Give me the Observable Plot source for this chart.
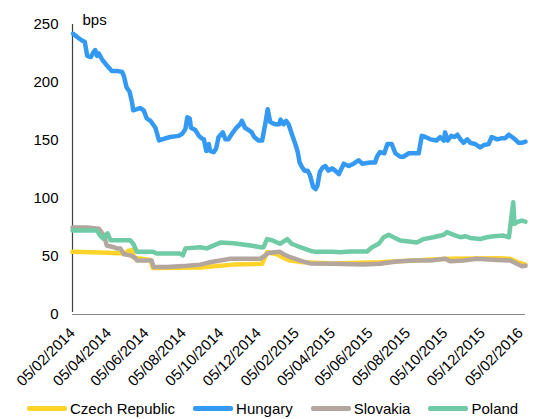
<!DOCTYPE html>
<html>
<head>
<meta charset="utf-8">
<script src="https://cdn.jsdelivr.net/npm/d3@7"></script>
<script src="https://cdn.jsdelivr.net/npm/@observablehq/plot@0.6"></script>
<style>
  html, body { margin: 0; padding: 0; background: #fff; }
  body { width: 534px; height: 419px; overflow: hidden; font-family: "Liberation Sans", Arial, sans-serif; }
  #legend { display: flex; align-items: center; height: 27px; padding-left: 27px; padding-top: 3px; font-size: 15px; color: #000; white-space: nowrap; }
  .item { display: flex; align-items: center; margin-right: 18px; flex-shrink: 0; }
  .sw { width: 40px; height: 5px; border-radius: 2px; margin-right: 3px; flex-shrink: 0; }
</style>
</head>
<body>
<div id="chart"></div>
<div id="legend"></div>
<script>
const seriesNames = ["Czech Republic", "Hungary", "Slovakia", "Poland"];
const seriesColors = ["#FFD327", "#3399F3", "#B3A69E", "#6FCAA6"];
const yTicks = [0, 50, 100, 150, 200, 250];
const xTickDates = ["2014-02-05","2014-04-05","2014-06-05","2014-08-05","2014-10-05","2014-12-05",
  "2015-02-05","2015-04-05","2015-06-05","2015-08-05","2015-10-05","2015-12-05","2016-02-05"];
const xDomain = ["2014-02-05", "2016-02-13"];

const czech = [
  ["2014-02-05",54],["2014-03-22",53.5],["2014-05-02",52.5],["2014-05-07",55],["2014-05-13",55.5],
  ["2014-05-16",49],["2014-06-12",47],["2014-06-16",40],["2014-09-01",40.5],["2014-10-25",43],
  ["2014-12-11",43.7],["2014-12-19",53.7],["2015-01-04",52],["2015-01-18",48],["2015-01-26",46.5],
  ["2015-02-16",45],["2015-04-06",44],["2015-06-21",45],["2015-10-08",48],["2015-12-29",48.5],
  ["2016-01-19",48],["2016-02-01",45],["2016-02-13",43]
];

const hungary = [
  ["2014-02-06",242],["2014-02-13",239],["2014-02-21",236],["2014-02-25",235],["2014-03-01",223],
  ["2014-03-07",222],["2014-03-11",226],["2014-03-14",228],["2014-03-17",223],["2014-03-20",225],
  ["2014-03-25",220],["2014-03-31",216],["2014-04-05",213],["2014-04-10",210],["2014-04-18",210],
  ["2014-04-27",209],["2014-04-30",205],["2014-05-04",196],["2014-05-09",192],["2014-05-13",183],
  ["2014-05-15",176],["2014-05-21",177],["2014-05-26",178],["2014-06-01",176],["2014-06-06",169],
  ["2014-06-12",167],["2014-06-20",161],["2014-06-26",150],["2014-07-01",151],["2014-07-14",153],
  ["2014-07-28",154],["2014-08-03",156],["2014-08-08",160],["2014-08-11",170],["2014-08-15",169],
  ["2014-08-17",161],["2014-08-24",159],["2014-08-30",154],["2014-09-03",152],["2014-09-07",151],
  ["2014-09-11",141],["2014-09-15",147],["2014-09-17",141],["2014-09-23",140],["2014-09-27",143],
  ["2014-10-01",153],["2014-10-08",157],["2014-10-12",151],["2014-10-17",151],["2014-10-23",156],
  ["2014-10-30",161],["2014-11-05",164],["2014-11-08",167],["2014-11-13",161],["2014-11-19",159],
  ["2014-11-24",157],["2014-11-28",153],["2014-12-05",150],["2014-12-11",150],["2014-12-16",164],
  ["2014-12-20",177],["2014-12-24",166],["2015-01-01",164],["2015-01-08",164],["2015-01-10",168],
  ["2015-01-15",164],["2015-01-19",167],["2015-01-23",164],["2015-01-28",156],["2015-02-03",147],
  ["2015-02-07",140],["2015-02-10",131],["2015-02-14",127],["2015-02-18",124],["2015-02-23",124],
  ["2015-02-27",120],["2015-03-04",110],["2015-03-08",108],["2015-03-11",111],["2015-03-15",123],
  ["2015-03-20",127],["2015-03-24",128],["2015-03-29",124],["2015-04-04",126],["2015-04-09",124],
  ["2015-04-15",121],["2015-04-23",130],["2015-05-01",128],["2015-05-09",130],["2015-05-17",133],
  ["2015-05-23",130],["2015-06-05",131],["2015-06-13",131],["2015-06-16",136],["2015-06-21",140],
  ["2015-06-28",139],["2015-07-03",147],["2015-07-10",147],["2015-07-16",139],["2015-07-24",136],
  ["2015-07-29",136],["2015-08-07",139],["2015-08-23",139],["2015-08-28",154],["2015-09-03",153],
  ["2015-09-11",151],["2015-09-21",150],["2015-09-27",153],["2015-10-03",150],["2015-10-05",157],
  ["2015-10-09",150],["2015-10-15",154],["2015-10-20",153],["2015-10-25",155],["2015-10-30",151],
  ["2015-11-04",148],["2015-11-10",151],["2015-11-15",148],["2015-11-23",147],["2015-12-01",144],
  ["2015-12-07",146],["2015-12-15",147],["2015-12-20",153],["2015-12-29",151],["2016-01-06",152],
  ["2016-01-11",152],["2016-01-17",155],["2016-01-22",153],["2016-01-27",151],["2016-02-02",148],
  ["2016-02-07",148],["2016-02-13",149]
];

const slovakia = [
  ["2014-02-05",75],["2014-03-01",75],["2014-03-20",74],["2014-03-28",68],["2014-04-02",59.5],
  ["2014-04-13",58],["2014-04-18",57],["2014-04-24",57],["2014-04-30",52],["2014-05-10",51],
  ["2014-05-18",49],["2014-05-21",46.5],["2014-06-14",46.5],["2014-06-17",41],["2014-07-09",41],
  ["2014-08-11",42],["2014-09-01",43],["2014-09-17",45],["2014-10-04",46.5],["2014-10-20",48],
  ["2014-12-08",48],["2014-12-16",51],["2014-12-21",53],["2015-01-09",54],["2015-01-15",52],
  ["2015-01-26",49.4],["2015-02-11",46.5],["2015-02-27",44],["2015-04-06",43.7],["2015-05-25",43],
  ["2015-06-21",43.7],["2015-07-18",45.7],["2015-08-14",46.5],["2015-09-11",46.5],["2015-10-05",48],
  ["2015-10-13",46],["2015-11-04",46.5],["2015-11-25",48],["2015-12-29",47],["2016-01-19",46.5],
  ["2016-01-30",43.7],["2016-02-07",41.6],["2016-02-13",42]
];

const poland = [
  ["2014-02-05",72.4],["2014-03-17",72.4],["2014-03-22",68],["2014-03-27",65.5],["2014-04-03",70],
  ["2014-04-08",64],["2014-05-10",64],["2014-05-15",61],["2014-05-21",54],["2014-06-16",54],
  ["2014-06-23",52.5],["2014-07-30",52.5],["2014-08-04",51],["2014-08-08",57],["2014-09-01",58],
  ["2014-09-12",57],["2014-10-04",62],["2014-10-25",61.5],["2014-11-22",59.5],["2014-12-08",58],
  ["2014-12-13",58],["2014-12-19",65],["2014-12-27",64],["2015-01-09",61],["2015-01-21",65],
  ["2015-01-28",61],["2015-02-11",58],["2015-02-27",55],["2015-03-08",54],["2015-04-06",54],
  ["2015-04-17",53.7],["2015-05-04",54.3],["2015-05-31",54.3],["2015-06-08",58],["2015-06-19",61],
  ["2015-06-27",66.6],["2015-07-05",68.7],["2015-07-13",66.6],["2015-07-24",63.8],["2015-08-07",63],
  ["2015-08-20",62],["2015-08-31",65],["2015-09-16",66.6],["2015-10-03",68.7],["2015-10-08",71],
  ["2015-10-19",68.7],["2015-10-30",66.6],["2015-11-07",67.5],["2015-11-15",66],["2015-12-01",65],
  ["2015-12-12",66.6],["2015-12-23",67.5],["2016-01-08",68],["2016-01-17",66.6],["2016-01-19",75],
  ["2016-01-24",96.8],["2016-01-26",78],["2016-01-30",79.6],["2016-02-07",81],["2016-02-13",80]
];

const parse = d3.utcParse("%Y-%m-%d");
const fmt = d3.utcFormat("%d/%m/%Y");
const allSeries = [czech, hungary, slovakia, poland];
const rows = allSeries.flatMap((s, i) => s.map(([d, v]) => ({date: parse(d), value: v, series: seriesNames[i]})));

const chart = Plot.plot({
  width: 534,
  height: 392,
  marginTop: 24,
  marginBottom: 78,
  marginLeft: 72,
  marginRight: 9,
  style: {fontFamily: "'Liberation Sans', Arial, sans-serif", fontSize: "15px", color: "#000", background: "#fff"},
  x: {type: "utc", domain: xDomain.map(parse)},
  y: {domain: [0, 250]},
  color: {domain: seriesNames, range: seriesColors},
  marks: [
    Plot.axisY({ticks: yTicks, tickSize: 0, tickPadding: 14, label: null}),
    Plot.axisX({ticks: xTickDates.map(parse), tickFormat: fmt, tickRotate: -45, tickSize: 0, tickPadding: 16, label: null}),
    Plot.ruleY([0], {stroke: "#868686", strokeWidth: 1.2}),
    Plot.ruleX([parse(xDomain[0])], {y1: 0, y2: 250, stroke: "#404040", strokeWidth: 1.2, insetTop: -2}),
    Plot.line(rows, {x: "date", y: "value", z: "series", stroke: "series", strokeWidth: 4.5, strokeLinejoin: "round", strokeLinecap: "round"}),
    Plot.text(["bps"], {frameAnchor: "top-left", dx: 10, dy: -10, fontSize: 15})
  ]
});
document.getElementById("chart").appendChild(chart);

const legend = document.getElementById("legend");
seriesNames.forEach((n, i) => {
  const it = document.createElement("div");
  it.className = "item";
  const sw = document.createElement("div");
  sw.className = "sw";
  sw.style.background = seriesColors[i];
  const lb = document.createElement("span");
  lb.textContent = n;
  it.appendChild(sw); it.appendChild(lb);
  legend.appendChild(it);
});
</script>
</body>
</html>
